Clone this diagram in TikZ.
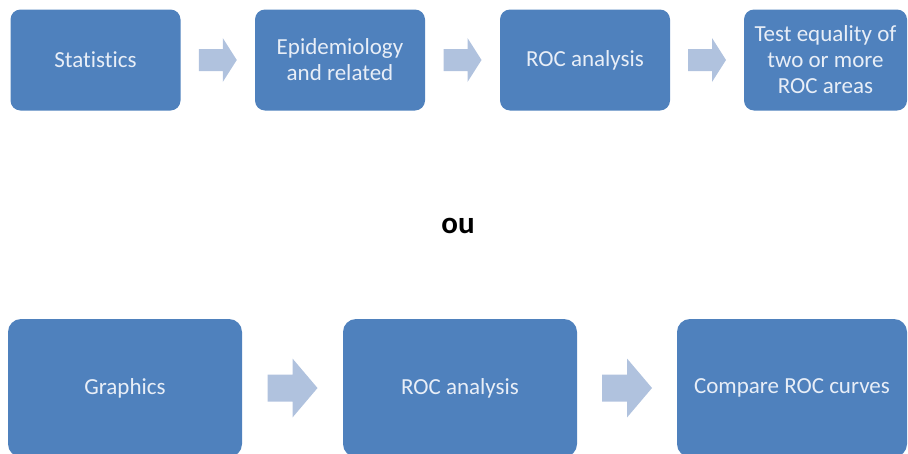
\documentclass[tikz,border=0pt]{standalone}
\usepackage{fontspec}
\setmainfont{Carlito}[Ligatures={NoCommon}]
\usetikzlibrary{calc}
\definecolor{boxfill}{HTML}{4F81BD}
\definecolor{boxtext}{HTML}{E8EEF7}
\definecolor{arrowfill}{HTML}{B0C2DE}
\tikzset{
  stepbox/.style={rounded corners=10pt, fill=boxfill, draw=none, inner sep=0pt,
    align=center, text=boxtext, font=\fontsize{23}{26}\selectfont,
    minimum height=101pt},
  bigbox/.style={stepbox, rounded corners=13pt, minimum height=138pt},
  pics/blockarrow/.style n args={4}{code={
    \fill[arrowfill] (-#1/2,-#3/2) -- (#1/2-#2,-#3/2) -- (#1/2-#2,-#4/2) -- (#1/2,0)
      -- (#1/2-#2,#4/2) -- (#1/2-#2,#3/2) -- (-#1/2,#3/2) -- cycle;}}
}
\begin{document}
\begin{tikzpicture}[x=1pt,y=-1pt]
\path[use as bounding box] (0,0) rectangle (908,453);
\clip (0,0) rectangle (908,453);

% first route
\node[stepbox, minimum width=170pt] (a1) at (95.5,60) {Statistics};
\node[stepbox, minimum width=170pt] (a2) at (340,60) {Epidemiology\\and related};
\node[stepbox, minimum width=170pt] (a3) at (585,60) {ROC analysis};
\node[stepbox, minimum width=163pt] (a4) at (825.5,60) {Test equality of\\two or more\\ROC areas};

\pic at ($(a1.east)!0.5!(a2.west)$) {blockarrow={38pt}{14pt}{22pt}{44pt}};
\pic at ($(a2.east)!0.5!(a3.west)$) {blockarrow={38pt}{14pt}{22pt}{44pt}};
\pic at ($(a3.east)!0.5!(a4.west)$) {blockarrow={38pt}{14pt}{22pt}{44pt}};

% alternative
\node[font=\fontsize{31}{35}\selectfont\bfseries] (or) at (458,226) {ou};

% second route
\node[bigbox, minimum width=234pt] (b1) at (125,388) {Graphics};
\node[bigbox, minimum width=234pt] (b2) at (460,388) {ROC analysis};
\node[bigbox, minimum width=230pt] (b3) at (792,388) {Compare ROC curves};

\pic at ($(b1.east)!0.5!(b2.west)$) {blockarrow={50pt}{25pt}{27pt}{59pt}};
\pic at ($(b2.east)!0.5!(b3.west)$) {blockarrow={50pt}{25pt}{27pt}{59pt}};
\end{tikzpicture}
\end{document}
